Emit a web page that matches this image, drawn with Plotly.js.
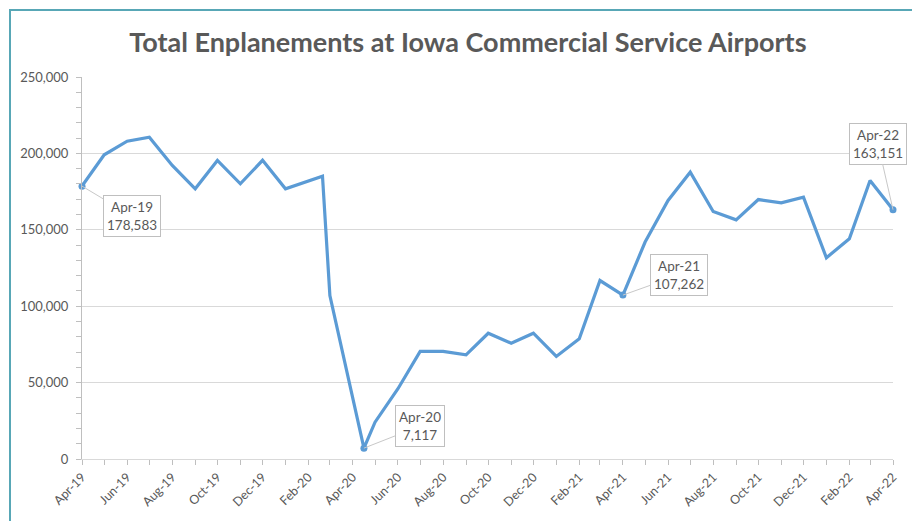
<!DOCTYPE html>
<html>
<head>
<meta charset="utf-8">
<script src="https://cdn.plot.ly/plotly-3.0.1.min.js"></script>
<style>
  html, body { margin: 0; padding: 0; background: #ffffff; overflow: hidden; }
  #frame {
    position: absolute; left: 9px; top: 9px; width: 920px; height: 530px;
    border-left: 2px solid #58a7b6; border-top: 2px solid #58a7b6;
    pointer-events: none; z-index: 10;
  }
  #chart { width: 912px; height: 521px; }
</style>
</head>
<body>
<div id="frame"></div>
<div id="chart"></div>
<script>
// monthly enplanements
let months = [
  "2019-04-01", "2019-05-01", "2019-06-01", "2019-07-01", "2019-08-01",
  "2019-09-01", "2019-10-01", "2019-11-01", "2019-12-01", "2020-01-01",
  "2020-02-20", "2020-03-01", "2020-04-16", "2020-05-01", "2020-06-01",
  "2020-07-01", "2020-08-01", "2020-09-01", "2020-10-01", "2020-11-01",
  "2020-12-01", "2021-01-01", "2021-02-01", "2021-03-01", "2021-04-01",
  "2021-05-01", "2021-06-01", "2021-07-01", "2021-08-01", "2021-09-01",
  "2021-10-01", "2021-11-01", "2021-12-01", "2022-01-01", "2022-02-01",
  "2022-03-01", "2022-04-01"
];
let enplanements = [
  178583, 199100, 208000, 210600, 192100,
  176800, 195400, 180100, 195500, 176800,
  185100, 107000, 7117, 24100, 46000,
  70400, 70400, 68200, 82300, 75800,
  82300, 67100, 78700, 116800, 107262,
  142000, 169200, 187700, 162000, 156500,
  169800, 167700, 171300, 131700, 144100,
  182300, 163151
];
// points that carry a callout, and where each callout box sits (px offset)
let labelled = [0, 12, 24, 36];
let labelOffsetX = [50, 56, 56, -15];
let labelOffsetY = [30, -22, -20, -66];

let monthNames = ["Jan","Feb","Mar","Apr","May","Jun","Jul","Aug","Sep","Oct","Nov","Dec"];
function monthLabel(d) {
  let parts = d.split("-");
  return monthNames[parseInt(parts[1]) - 1] + "-" + parts[0].slice(2);
}

let lineColor = "#5b9bd5";
let textColor = "#595959";

let trace_line = {
  x: months,
  y: enplanements,
  type: "scatter",
  mode: "lines",
  line: {color: lineColor, width: 3.2},
  hoverinfo: "x+y",
  showlegend: false
};
let trace_points = {
  x: labelled.map(i => months[i]),
  y: labelled.map(i => enplanements[i]),
  type: "scatter",
  mode: "markers",
  marker: {color: lineColor, size: 7},
  cliponaxis: false,
  showlegend: false
};

let annotations = labelled.map((i, k) => ({
  x: months[i],
  y: enplanements[i],
  xref: "x",
  yref: "y",
  text: monthLabel(months[i]) + "<br>" + enplanements[i].toLocaleString("en-US"),
  showarrow: true,
  arrowhead: 0,
  arrowwidth: 1,
  arrowcolor: "#c8c8c8",
  ax: labelOffsetX[k],
  ay: labelOffsetY[k],
  bgcolor: "#ffffff",
  bordercolor: "#bfbfbf",
  borderwidth: 1,
  borderpad: 3,
  font: {family: "Lato, sans-serif", size: 13.5, color: textColor}
}));

let layout = {
  width: 912,
  height: 521,
  margin: {l: 82, r: 19, t: 77, b: 62},
  paper_bgcolor: "#ffffff",
  plot_bgcolor: "#ffffff",
  font: {family: "Lato, sans-serif", color: textColor, size: 12},
  title: {
    text: "Total Enplanements at Iowa Commercial Service Airports",
    font: {family: "Lato, sans-serif", size: 27, color: textColor, weight: 700},
    xref: "container",
    yref: "container",
    x: 0.513,
    y: 0.919,
    xanchor: "center",
    yanchor: "middle"
  },
  xaxis: {
    type: "date",
    range: ["2019-04-01", "2022-04-01"],
    tick0: "2019-04-01",
    dtick: "M2",
    tickformat: "%b-%y",
    tickangle: -45,
    ticks: "outside",
    ticklen: 5,
    tickcolor: "#bfbfbf",
    minor: {dtick: "M1", ticks: "outside", ticklen: 5, tickcolor: "#bfbfbf", showgrid: false},
    showgrid: false,
    showline: true,
    linecolor: "#d9d9d9",
    linewidth: 1,
    zeroline: false,
    tickfont: {size: 12.5, color: textColor}
  },
  yaxis: {
    range: [0, 250000],
    dtick: 50000,
    tickformat: ",d",
    ticks: "outside",
    ticklen: 5,
    tickcolor: "#bfbfbf",
    ticklabelstandoff: 5,
    minor: {dtick: 10000, ticks: "outside", ticklen: 5, tickcolor: "#bfbfbf", showgrid: false},
    showgrid: true,
    gridcolor: "#d9d9d9",
    showline: true,
    linecolor: "#bfbfbf",
    zeroline: false,
    tickfont: {size: 13, color: textColor}
  },
  annotations: annotations
};

Plotly.newPlot("chart", [trace_line, trace_points], layout, {displayModeBar: false, staticPlot: true});
</script>
</body>
</html>
